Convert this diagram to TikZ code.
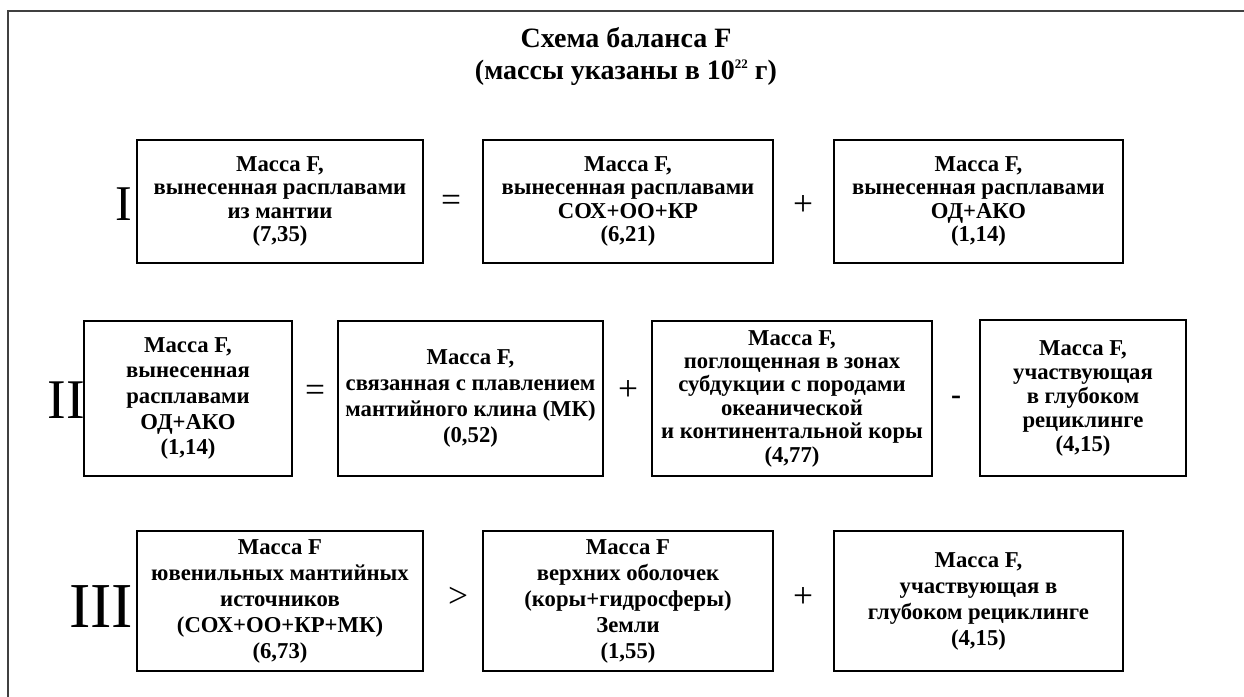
\documentclass[tikz,border=0pt]{standalone}
\usepackage{fontspec}
\setmainfont{Liberation Serif}
\usetikzlibrary{positioning}
\tikzset{massbox/.style = {draw, line width = 1, align = center, inner sep = 0, font = \bfseries\fontsize{11.35}{12.85}\selectfont}}
\tikzset{rowone/.style = {font = \bfseries\fontsize{11.35}{11.7}\selectfont}}
\tikzset{sign/.style = {inner sep = 0, font = \fontsize{17.7}{18}\selectfont}}
\tikzset{roman/.style = {inner sep = 0, font = \fontsize{25}{25}\selectfont}}

\begin{document}
\begin{tikzpicture}[x=0.5pt, y=-0.5pt]
            \fill [white] (0,0) rectangle (1244,697);
            \useasboundingbox (0,0) rectangle (1244,697);
            \draw [line width=1, black!75] (1244,10.5)--(8,10.5)--(8,697);
            \node [align=center, font=\bfseries\fontsize{14}{16}\selectfont] (title) at (626,56) {Схема баланса F\\(массы указаны в 10\raisebox{5.5pt}{\fontsize{6.5}{6.5}\selectfont 22} г)};
            % I
            \node [roman] (n1) at (124,204) {I};
            \node [massbox, rowone, minimum width=143pt, minimum height=61.5pt] (a1) at (280,201.5) {Масса F,\\вынесенная расплавами\\из мантии\\(7,35)};
            \node [sign] (eq1) at (451,203) {=};
            \node [massbox, rowone, minimum width=145pt, minimum height=61.5pt] (a2) at (628,201.5) {Масса F,\\вынесенная расплавами\\СОХ+ОО+КР\\(6,21)};
            \node [sign] (pl1) at (803,205) {+};
            \node [massbox, rowone, minimum width=144.5pt, minimum height=61.5pt] (a3) at (978.5,201.5) {Масса F,\\вынесенная расплавами\\ОД+АКО\\(1,14)};
            % II
            \node [roman, font=\fontsize{28}{28}\selectfont] (n2) at (66,400) {II};
            \node [massbox, minimum width=104pt, minimum height=77.5pt] (b1) at (188,398.5) {Масса F,\\вынесенная\\расплавами\\ОД+АКО\\(1,14)};
            \node [sign] (eq2) at (315,393) {=};
            \node [massbox, minimum width=132.5pt, minimum height=77.5pt] (b2) at (470.5,398.5) {Масса F,\\связанная с плавлением\\мантийного клина (МК)\\(0,52)};
            \node [sign] (pl2) at (628,390) {+};
            \node [massbox, rowone, minimum width=140pt, minimum height=77.5pt] (b3) at (792,398.5) {Масса F,\\поглощенная в зонах\\субдукции с породами\\океанической\\и континентальной коры\\(4,77)};
            \node [sign, font=\bfseries\fontsize{15}{15}\selectfont] (mi2) at (956,400) {-};
            \node [massbox, minimum width=103pt, minimum height=78pt, font=\bfseries\fontsize{11.35}{12}\selectfont] (b4) at (1083,398) {Масса F,\\участвующая\\в глубоком\\рециклинге\\(4,15)};
            % III
            \node [roman, font=\fontsize{32}{32}\selectfont] (n3) at (101,607) {III};
            \node [massbox, minimum width=143pt, minimum height=70pt, font=\bfseries\fontsize{11.35}{13}\selectfont] (c1) at (280,601) {Масса F\\ювенильных мантийных\\источников\\(СОХ+ОО+КР+МК)\\(6,73)};
            \node [sign] (gt3) at (458,597) {>};
            \node [massbox, minimum width=145pt, minimum height=70pt, font=\bfseries\fontsize{11.35}{13}\selectfont] (c2) at (628,601) {Масса F\\верхних оболочек\\(коры+гидросферы)\\Земли\\(1,55)};
            \node [sign] (pl3) at (803,597) {+};
            \node [massbox, minimum width=144.5pt, minimum height=70pt, font=\bfseries\fontsize{11.35}{13}\selectfont] (c3) at (978.5,601) {Масса F,\\участвующая в\\глубоком рециклинге\\(4,15)};
        \end{tikzpicture}
\end{document}
